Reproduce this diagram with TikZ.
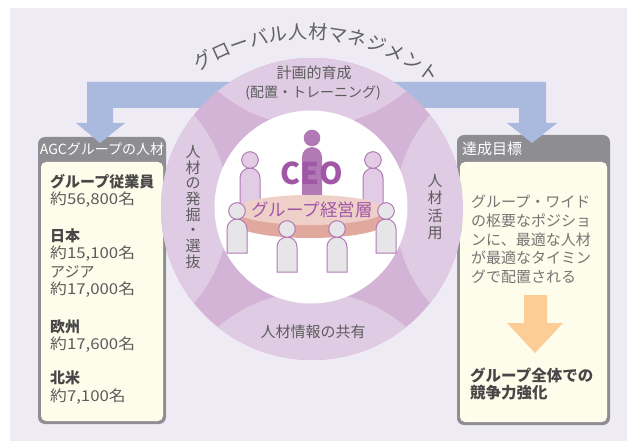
\documentclass[tikz,border=0pt]{standalone}
\usepackage{fontspec}
\setmainfont{Noto Sans CJK JP}
\newfontfamily\widecjk[FakeStretch=1.12]{Noto Sans CJK JP}

\definecolor{bglav}{HTML}{EEEBF5}
\definecolor{ringlight}{HTML}{DFCBE3}
\definecolor{ringdark}{HTML}{D3B3D6}
\definecolor{flowblue}{HTML}{AABADF}
\definecolor{boxgray}{HTML}{8E8E92}
\definecolor{cream}{HTML}{FEFCEA}
\definecolor{orangearrow}{HTML}{FDCD98}
\definecolor{ceopurple}{HTML}{A057A6}
\definecolor{figpurple}{HTML}{B27AB5}
\definecolor{backfill}{HTML}{E2CCE5}
\definecolor{frontfill}{HTML}{E6E6E9}
\definecolor{tabletop}{HTML}{EFD0C9}
\definecolor{tablerim}{HTML}{E1A99E}
\definecolor{txtgray}{HTML}{5C5C5C}
\definecolor{txtdark}{HTML}{474747}
\definecolor{titlegray}{HTML}{626262}

% one seated figure: style, x centre, head y, body top y, body bottom y
\newcommand\drawperson[5]{%
  \filldraw[#1] (#2-10,#5) -- (#2-10,#4-10)
    arc[start angle=180,end angle=0,radius=10] -- (#2+10,#5) -- cycle;
  \filldraw[#1] (#2,#3) circle[radius=8.3];
}

\tikzset{
  ringtext/.style={text=txtgray, inner sep=0pt, font=\fontsize{15}{15}\selectfont},
  vtext/.style={text=txtgray, inner sep=0pt, align=center, font=\fontsize{15}{16}\selectfont},
  headtext/.style={text=white, inner sep=0pt, font=\fontsize{14}{14}\selectfont},
  listtext/.style={text=txtgray, inner sep=0pt, anchor=west, font=\widecjk\fontsize{15}{15}\selectfont},
  listbold/.style={text=txtdark, inner sep=0pt, anchor=west, font=\fontsize{15}{15}\selectfont\bfseries},
  goaltext/.style={text=txtgray!85, inner sep=0pt, anchor=west, font=\fontsize{15}{15}\selectfont},
  titlechar/.style={text=titlegray, inner sep=0pt, anchor=center, text height=16.7pt,
    text depth=2.3pt, font=\fontsize{19}{19}\selectfont},
  backman/.style={fill=backfill, draw=figpurple, line width=1pt},
  frontman/.style={fill=frontfill, draw=figpurple, line width=1pt},
  ceoman/.style={fill=figpurple, draw=none},
}

\begin{document}
\begin{tikzpicture}[x=1pt,y=1pt]
\useasboundingbox (0,0) rectangle (627,-441);
\fill[bglav] (10,-8) rectangle (627,-441);

% side panels
\fill[boxgray, rounded corners=7pt] (38,-137) rectangle (166,-424);
\fill[cream, rounded corners=5pt] (41,-162) rectangle (163,-421);
\fill[boxgray, rounded corners=7pt] (457,-135) rectangle (610,-425);
\fill[cream, rounded corners=5pt] (460,-162) rectangle (607,-422);

% blue flow band with its two arrow heads
\fill[flowblue] (87,-82) -- (546,-82) -- (546,-123) -- (557,-123) -- (532,-143)
  -- (507,-123) -- (519,-123) -- (519,-108) -- (113,-108) -- (113,-123)
  -- (125,-123) -- (100,-143) -- (76,-123) -- (87,-123) -- cycle;

% ring with four light segments
\begin{scope}
  \clip (312,-209) circle[radius=151];
  \fill[ringdark] (312,-209) circle[radius=151];
  \fill[ringlight] (312,18) circle[radius=144];
  \fill[ringlight] (312,-436) circle[radius=144];
  \fill[ringlight] (85,-209) circle[radius=144];
  \fill[ringlight] (539,-209) circle[radius=144];
\end{scope}
\fill[white] (311,-207) circle[radius=96.5];

% curved title: glyphs evenly spaced on an arc around (307,-238)
\foreach \ch [count=\i] in {グ,ロ,ー,バ,ル,人,材,マ,ネ,ジ,メ,ン,ト} {
  \pgfmathsetmacro\ang{120.3-5.567*(\i-1)}
  \node[titlechar, rotate=\ang-90] (title\i) at ([shift={(307,-238)}]\ang:206) {\ch};
}

% ring labels
\node[ringtext] (plan) at (314,-73) {計画的育成};
\node[ringtext, font=\fontsize{14}{14}\selectfont] (plansub) at (313,-93) {(配置・トレーニング)};
\node[ringtext] (share) at (313,-332) {人材情報の共有};
\node[vtext, font=\fontsize{15}{15.7}\selectfont] (discover) at (193,-207) {人\\材\\の\\発\\掘\\・\\選\\抜};
\node[vtext, font=\fontsize{15}{17.5}\selectfont] (utilize) at (435,-207) {人\\材\\活\\用};

% executives behind the table
\drawperson{backman}{250}{-160}{-168}{-206}
\drawperson{backman}{373}{-160}{-168}{-206}
\drawperson{ceoman}{312}{-138}{-147}{-204}
\node[text=ceopurple, inner sep=0pt, font=\fontsize{30}{30}\selectfont\bfseries] (ceo) at (312,-173.5) {CEO};

% table
\fill[tablerim] (310,-223) ellipse[x radius=75, y radius=15];
\fill[tablerim] (235,-210) rectangle (385,-223);
\fill[tabletop] (310,-210) ellipse[x radius=75, y radius=15];
\node[text=ceopurple, inner sep=0pt, font=\fontsize{17.5}{17.5}\selectfont] (board) at (312,-209.5) {グループ経営層};

% executives in front of the table
\drawperson{frontman}{237}{-211}{-219}{-253}
\drawperson{frontman}{287}{-229}{-237}{-272}
\drawperson{frontman}{337}{-229}{-237}{-272}
\drawperson{frontman}{386}{-211}{-219}{-253}

% left panel
\node[headtext] (lefthead) at (102,-149) {AGCグループの人材};
\node[listbold] (l1) at (50,-182) {グループ従業員};
\node[listtext] (l2) at (50,-200) {約56,800名};
\node[listbold] (l3) at (50,-236) {日本};
\node[listtext] (l4) at (50,-254) {約15,100名};
\node[listtext, font=\fontsize{15}{15}\selectfont] (l5) at (50,-272) {アジア};
\node[listtext] (l6) at (50,-290) {約17,000名};
\node[listbold] (l7) at (50,-327) {欧州};
\node[listtext] (l8) at (50,-345) {約17,600名};
\node[listbold] (l9) at (50,-378) {北米};
\node[listtext] (l10) at (50,-397) {約7,100名};

% right panel
\node[headtext, anchor=west, font=\fontsize{15}{15}\selectfont] (righthead) at (462,-149) {達成目標};
\foreach \line [count=\i] in {グループ・ワイド, の枢要なポジショ, ンに、最適な人材, が最適なタイミン, グで配置される}
  \node[goaltext] (g\i) at (471,{-202-18.7*(\i-1)}) {\line};
\fill[orangearrow] (524,-295) -- (547,-295) -- (547,-323) -- (563,-323) -- (535,-353)
  -- (507,-323) -- (524,-323) -- cycle;
\node[listbold, font=\fontsize{15.5}{15.5}\selectfont\bfseries] (r1) at (470,-375) {グループ全体での};
\node[listbold, font=\fontsize{15.5}{15.5}\selectfont\bfseries] (r2) at (470,-393) {競争力強化};
\end{tikzpicture}
\end{document}
